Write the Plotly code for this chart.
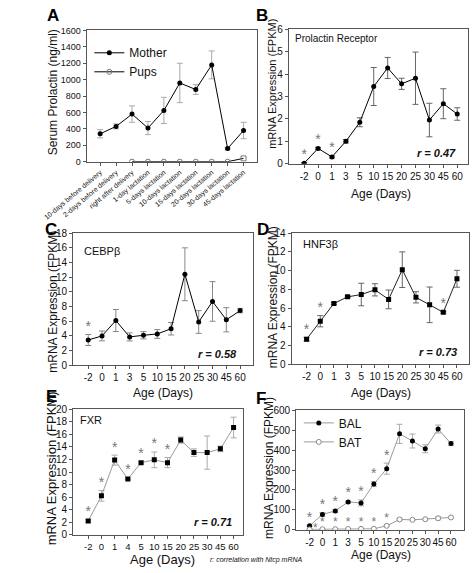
import plotly.graph_objects as go

W, H = 472, 573
FONT = "Liberation Sans, Arial, sans-serif"

def px(x):
    return x / W

def py(y):
    return 1 - y / H

# ---------------- data ----------------
A_labels = ["10-days before delivery", "2-days before delivery", "right after delivery",
            "1-day lactation", "5-days lactation", "10-days lactation", "15-days lactation",
            "20-days lactation", "30-days lactation", "45-days lactation"]
A_mother = [340, 430, 580, 410, 625, 960, 880, 1180, 160, 380]
A_mother_err = [50, 30, 100, 80, 160, 240, 60, 170, 15, 100]
A_pups = [None, None, 0, 0, 0, 0, 0, 0, 0, 40]

ages = ["-2", "0", "1", "3", "5", "10", "15", "20", "25", "30", "45", "60"]
ages_E = ["-2", "0", "1", "4", "5", "10", "15", "20", "25", "30", "45", "60"]

B_vals = [0.02, 0.68, 0.30, 1.00, 1.85, 3.45, 4.28, 3.57, 3.82, 1.95, 2.68, 2.22]
B_err = [0.03, 0.05, 0.05, 0.08, 0.20, 0.85, 0.47, 0.25, 1.17, 0.75, 0.67, 0.28]
B_star = [0, 1, 2]

C_vals = [3.45, 4.0, 6.1, 3.87, 4.09, 4.27, 4.98, 12.4, 5.9, 8.7, 6.2, 7.45]
C_err = [0.75, 0.67, 1.5, 0.55, 0.5, 0.6, 0.85, 3.6, 1.55, 2.7, 1.65, 0.3]
C_star = [0]

D_vals = [2.68, 4.6, 6.5, 7.2, 7.45, 7.95, 6.93, 10.1, 7.15, 6.35, 5.55, 9.13]
D_err = [0.2, 0.6, 0.1, 0.1, 1.2, 0.65, 1.0, 1.9, 0.6, 1.9, 0.1, 0.9]
D_star = [0, 1, 10]

E_vals = [2.2, 6.2, 11.9, 8.9, 11.5, 11.95, 11.5, 15.1, 13.1, 13.1, 13.7, 17.1]
E_err = [0.2, 0.85, 0.8, 0.15, 0.2, 1.25, 0.8, 0.5, 0.6, 2.65, 0.45, 1.65]
E_star = [0, 1, 2, 3, 4, 5, 6]

F_BAL = [20, 77, 95, 140, 135, 230, 307, 482, 446, 407, 506, 433]
F_BAL_err = [3, 10, 8, 5, 15, 12, 28, 48, 35, 20, 20, 10]
F_BAT = [2, 3, 3, 4, 5, 5, 20, 52, 50, 53, 58, 62]
F_BAT_err = [1, 1, 1, 1, 1, 1, 3, 4, 3, 3, 8, 3]
F_star_BAL = [0, 1, 2, 3, 4, 5, 6]
F_star_BAT = [1, 2, 3, 4, 5, 6]
F_star_BAT_first = [0]

r_vals = {"B": "0.47", "C": "0.58", "D": "0.73", "E": "0.71"}

# ---------------- figure ----------------
fig = go.Figure()
idx12 = list(range(12))

def err(vals, color, w=3):
    return dict(type="data", array=vals, visible=True, color=color, thickness=1, width=w)

def stars(xs, ys, errs, sel, ax, color="#777", dx=0.0, size=14, pos="top center"):
    fig.add_trace(go.Scatter(
        x=[xs[i] + dx for i in sel], y=[ys[i] + errs[i] for i in sel],
        mode="text", text=["*"] * len(sel), textposition=pos,
        textfont=dict(size=size, color=color, family=FONT),
        xaxis="x" + ax, yaxis="y" + ax, showlegend=False, hoverinfo="skip"))

# Panel A
idxA = list(range(len(A_labels)))
fig.add_trace(go.Scatter(x=idxA, y=A_mother, mode="lines+markers", name="Mother",
                         line=dict(color="black", width=1),
                         marker=dict(symbol="circle", size=5, color="black"),
                         error_y=err(A_mother_err, "#aaa"),
                         xaxis="x", yaxis="y", legend="legend"))
fig.add_trace(go.Scatter(x=idxA, y=A_pups, mode="lines+markers", name="Pups",
                         line=dict(color="black", width=1),
                         marker=dict(symbol=["circle-open"] * 9 + ["square-open"], size=5, color="#777"),
                         xaxis="x", yaxis="y", legend="legend"))

# Panel B
fig.add_trace(go.Scatter(x=idx12, y=B_vals, mode="lines+markers", line=dict(color="black", width=1),
                         marker=dict(size=5, color="black"), error_y=err(B_err, "#666"),
                         xaxis="x2", yaxis="y2", showlegend=False))
stars(idx12, B_vals, B_err, B_star, "2")

# Panel C
fig.add_trace(go.Scatter(x=idx12, y=C_vals, mode="lines+markers", line=dict(color="black", width=1),
                         marker=dict(size=5, color="black"), error_y=err(C_err, "#888"),
                         xaxis="x3", yaxis="y3", showlegend=False))
stars(idx12, C_vals, C_err, C_star, "3")

# Panel D
fig.add_trace(go.Scatter(x=idx12, y=D_vals, mode="lines+markers", line=dict(color="#222", width=1),
                         marker=dict(size=5, color="black", symbol="square"), error_y=err(D_err, "#666"),
                         xaxis="x4", yaxis="y4", showlegend=False))
stars(idx12, D_vals, D_err, D_star, "4")

# Panel E
fig.add_trace(go.Scatter(x=idx12, y=E_vals, mode="lines+markers", line=dict(color="#999", width=1),
                         marker=dict(size=5, color="black", symbol="square"), error_y=err(E_err, "#aaa"),
                         xaxis="x5", yaxis="y5", showlegend=False))
stars(idx12, E_vals, E_err, E_star, "5")

# Panel F
fig.add_trace(go.Scatter(x=idx12, y=F_BAL, mode="lines+markers", name="BAL",
                         line=dict(color="#999", width=1),
                         marker=dict(size=5, color="black"), error_y=err(F_BAL_err, "#aaa"),
                         xaxis="x6", yaxis="y6", legend="legend2"))
fig.add_trace(go.Scatter(x=idx12, y=F_BAT, mode="lines+markers", name="BAT",
                         line=dict(color="#999", width=1),
                         marker=dict(size=5, color="white", symbol="circle",
                                     line=dict(color="#888", width=1)),
                         error_y=err(F_BAT_err, "#bbb"),
                         xaxis="x6", yaxis="y6", legend="legend2"))
stars(idx12, F_BAL, F_BAL_err, F_star_BAL, "6")
stars(idx12, F_BAT, F_BAT_err, F_star_BAT, "6", size=12)
stars(idx12, F_BAT, F_BAT_err, F_star_BAT_first, "6", size=12, dx=0.45, pos="middle center")

# ---------------- axes ----------------
panels = {
    "": dict(x=(47, 235), y=(25, 159), xr=(-0.85, 9.85), yr=(0, 1600), dt=200,
             tv=idxA, tt=A_labels, angle=-40, tfs=7, yfs=9),
    "2": dict(x=(270, 468), y=(24, 161), xr=(-1.1, 11.8), yr=(0, 6), dt=1,
              tv=idx12, tt=ages, angle=0, tfs=10, yfs=10),
    "3": dict(x=(32, 230), y=(232, 367), xr=(-1.1, 11.9), yr=(0, 18), dt=2,
              tv=idx12, tt=ages, angle=0, tfs=10, yfs=10),
    "4": dict(x=(273, 469), y=(232, 366), xr=(-1.1, 11.9), yr=(0, 14), dt=2,
              tv=idx12, tt=ages, angle=0, tfs=10, yfs=10),
    "5": dict(x=(32, 220), y=(412, 540), xr=(-1.15, 11.75), yr=(0, 20), dt=2,
              tv=idx12, tt=ages_E, angle=0, tfs=9.5, yfs=10),
    "6": dict(x=(278, 463), y=(413, 535), xr=(-1.05, 12.0), yr=(0, 600), dt=100,
              tv=idx12, tt=ages, angle=0, tfs=10, yfs=10),
}

lay = {}
for k, p in panels.items():
    lay["xaxis" + k] = dict(domain=[px(p["x"][0]), px(p["x"][1])], range=list(p["xr"]),
                            anchor="y" + k, tickmode="array", tickvals=p["tv"], ticktext=p["tt"],
                            tickangle=p["angle"], tickfont=dict(size=p["tfs"], color="#111", family=FONT),
                            showline=True, linecolor="#555", linewidth=1, mirror=True,
                            ticks="outside", ticklen=3, tickcolor="#555", showgrid=False,
                            zeroline=False, fixedrange=True)
    lay["yaxis" + k] = dict(domain=[py(p["y"][1]), py(p["y"][0])], range=list(p["yr"]),
                            anchor="x" + k, dtick=p["dt"], tick0=0,
                            tickfont=dict(size=p["yfs"], color="#111", family=FONT),
                            showline=True, linecolor="#555", linewidth=1, mirror=True,
                            ticks="outside", ticklen=3, tickcolor="#555", showgrid=False,
                            zeroline=False, fixedrange=True)

ann = []
def text(x, y, s, size, angle=0, bold=False, italic=False, xanchor="center", color="#111"):
    if italic:
        s = "<i>" + s + "</i>"
    if bold:
        s = "<b>" + s + "</b>"
    ann.append(dict(x=px(x), y=py(y), xref="paper", yref="paper", text=s, showarrow=False,
                    textangle=angle, xanchor=xanchor, yanchor="middle",
                    font=dict(size=size, family=FONT, color=color)))

# panel letters
for lt, (x, y) in {"A": (10, 10), "B": (240, 10), "C": (8, 228), "D": (242, 228),
                   "E": (8, 399), "F": (239, 401)}.items():
    text(x, y, lt, 17, bold=True, color="black")

# y titles
text(10, 88, "Serum Prolactin (ng/ml)", 12, angle=-90)
text(252, 80, "mRNA Expression (FPKM)", 11, angle=-90)
text(10, 302, "mRNA Expression (FPKM)", 12, angle=-90)
text(252, 298, "mRNA Expression (FPKM)", 12, angle=-90)
text(8, 472, "mRNA Expression (FPKM)", 13, angle=-90)
text(248, 472, "mRNA Expression (FPKM)", 12, angle=-90)

# x titles
text(372, 192, "Age (Days)", 12)
text(131, 395, "Age (Days)", 12)
text(372, 395, "Age (Days)", 12)
text(131, 565, "Age (Days)", 13)
text(372, 561, "Age (Days)", 12)

# inner labels
text(275, 33, "Prolactin Receptor", 10, xanchor="left")
text(42, 250, "CEBPβ", 11, xanchor="left")
text(283, 243, "HNF3β", 11, xanchor="left")
text(37, 423, "FXR", 11, xanchor="left")

# r values
text(457, 150, "r = " + r_vals["B"], 11, italic=True, bold=True, xanchor="right")
text(215, 355, "r = " + r_vals["C"], 11, italic=True, bold=True, xanchor="right")
text(458, 353, "r = " + r_vals["D"], 11, italic=True, bold=True, xanchor="right")
text(210, 527, "r = " + r_vals["E"], 11, italic=True, bold=True, xanchor="right")

# footnote
text(181, 566, "r: correlation with Ntcp mRNA", 7, italic=True, xanchor="left")

fig.update_layout(
    width=W, height=H, margin=dict(l=0, r=0, t=0, b=0),
    paper_bgcolor="white", plot_bgcolor="white",
    font=dict(family=FONT, color="#111"),
    annotations=ann,
    legend=dict(x=px(50), y=py(33), xanchor="left", yanchor="top", bgcolor="rgba(0,0,0,0)",
                font=dict(size=12, family=FONT, color="#111"), itemwidth=30, tracegroupgap=0),
    legend2=dict(x=px(281), y=py(411), xanchor="left", yanchor="top", bgcolor="rgba(0,0,0,0)",
                 font=dict(size=12, family=FONT, color="#111"), itemwidth=30, tracegroupgap=0),
    **lay,
)

fig.write_html(
    "out.html",
    config={"displayModeBar": False},
    post_script="document.body.style.margin='0';document.body.style.padding='0';"
                "document.documentElement.style.overflow='hidden';document.body.style.overflow='hidden';",
)
